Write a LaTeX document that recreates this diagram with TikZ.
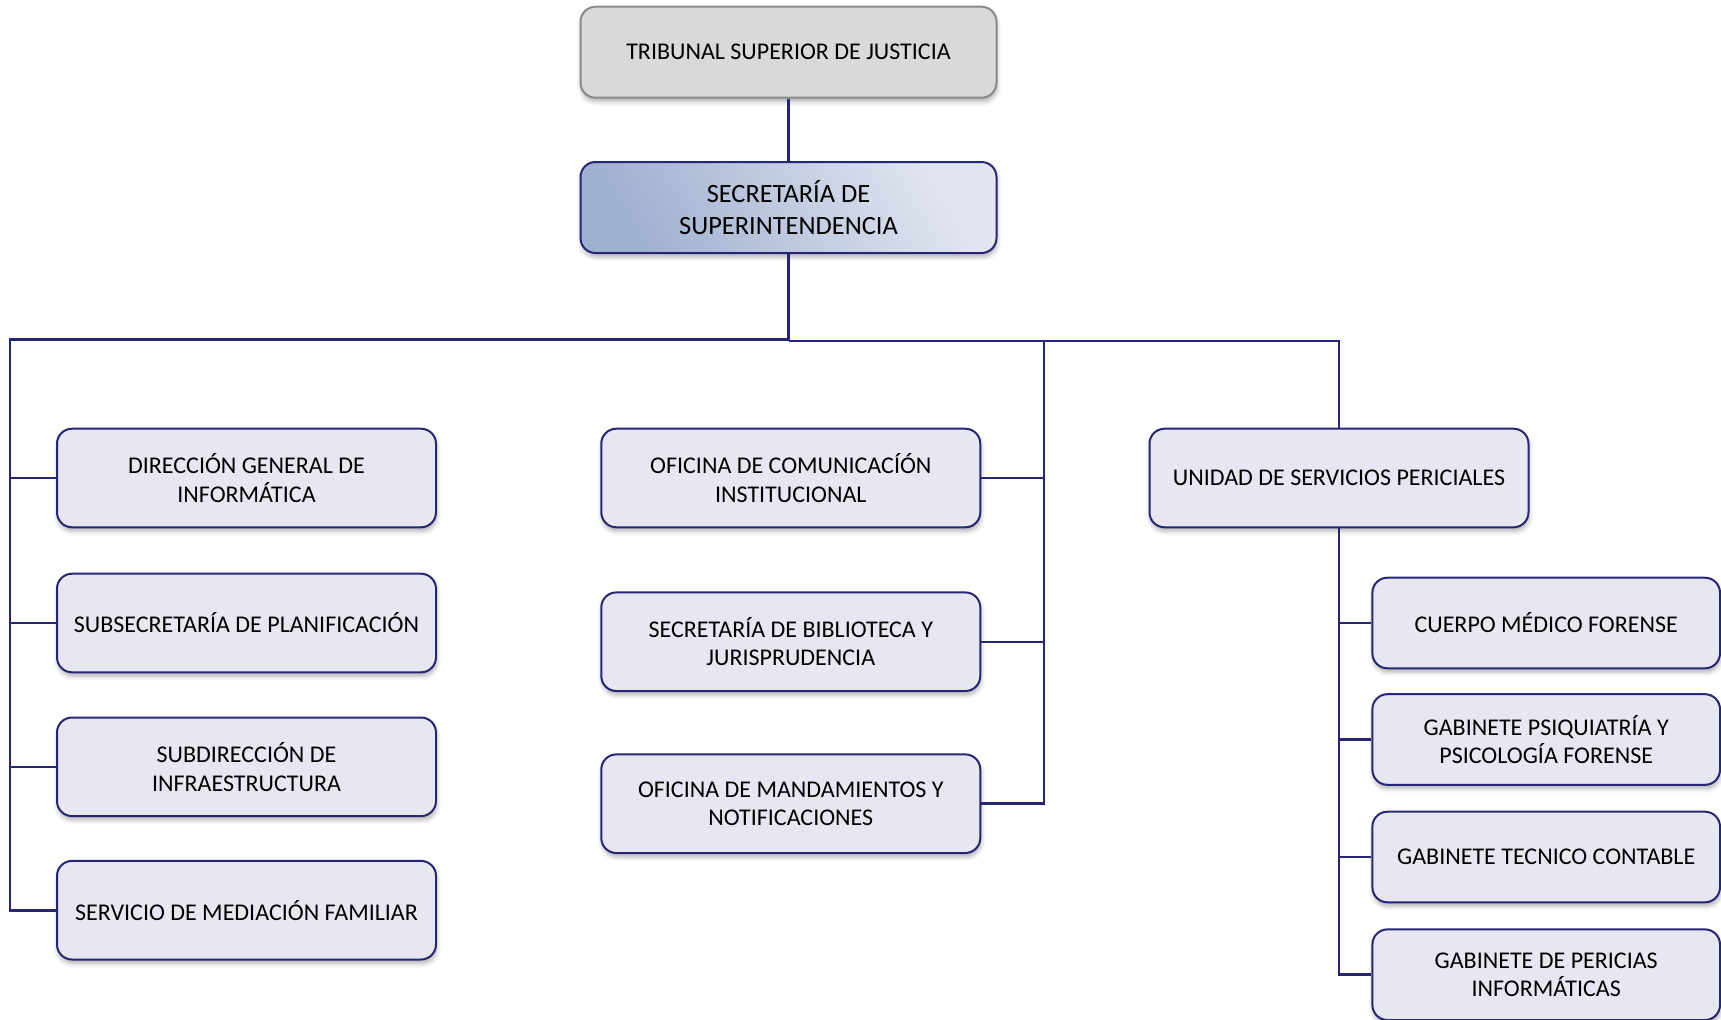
\documentclass[tikz,border=0pt]{standalone}
\usepackage{fontspec}
\setmainfont{Carlito}
\usetikzlibrary{shadows.blur}
\definecolor{navy}{RGB}{38,38,118}
\definecolor{boxfill}{RGB}{230,231,241}
\definecolor{trfill}{RGB}{217,217,217}
\definecolor{trdraw}{RGB}{138,138,138}
\definecolor{secA}{RGB}{160,176,208}
\definecolor{secB}{RGB}{226,230,240}
\begin{document}
\begin{tikzpicture}[x=0.5pt,y=-0.5pt,
  softshadow/.style={blur shadow={shadow xshift=0.4pt, shadow yshift=-2pt, shadow blur radius=2.2pt, shadow opacity=30}},
  unitbox/.style={draw=navy, line width=1pt, fill=boxfill, rounded corners=7.5pt,
    align=center, inner sep=0pt, text=black, softshadow,
    font=\fontsize{12}{14.3}\selectfont},
  leftbox/.style={unitbox, minimum width=189.5pt, minimum height=49.3pt},
  rightbox/.style={unitbox, minimum width=173.8pt, minimum height=45.3pt},
  topbox/.style={unitbox, draw=trdraw, fill=trfill, minimum width=208pt, minimum height=45.5pt},
  secbox/.style={unitbox, fill=none, left color=secB, right color=secA, shading angle=-60,
    minimum width=208pt, minimum height=45.5pt, font=\fontsize{13.2}{15.8}\selectfont},
  bus/.style={draw=navy, line width=1.4pt},
  stub/.style={draw=navy, line width=1.1pt}
]
\useasboundingbox (0,0) rectangle (1721,1019);

% top
\node[topbox] (trib) at (788.5,52.2) {TRIBUNAL SUPERIOR DE JUSTICIA};
\node[secbox] (sec) at (788.5,207.5) {SECRETARÍA DE\\SUPERINTENDENCIA};

% left column
\node[leftbox] (l1) at (246.5,478) {DIRECCIÓN GENERAL DE\\INFORMÁTICA};
\node[leftbox] (l2) at (246.5,623) {SUBSECRETARÍA DE PLANIFICACIÓN};
\node[leftbox] (l3) at (246.5,766.8) {SUBDIRECCIÓN DE\\INFRAESTRUCTURA};
\node[leftbox] (l4) at (246.5,910.2) {SERVICIO DE MEDIACIÓN FAMILIAR};

% middle column
\node[leftbox] (m1) at (790.8,478) {OFICINA DE COMUNICACÍÓN\\INSTITUCIONAL};
\node[leftbox] (m2) at (790.8,641.7) {SECRETARÍA DE BIBLIOTECA Y\\JURISPRUDENCIA};
\node[leftbox] (m3) at (790.8,803.7) {OFICINA DE MANDAMIENTOS Y\\NOTIFICACIONES};

% right
\node[leftbox] (u) at (1339,478) {UNIDAD DE SERVICIOS PERICIALES};
\node[rightbox] (r1) at (1546.2,623) {CUERPO MÉDICO FORENSE};
\node[rightbox] (r2) at (1546.2,739.5) {GABINETE PSIQUIATRÍA Y\\PSICOLOGÍA FORENSE};
\node[rightbox] (r3) at (1546.2,857) {GABINETE TECNICO CONTABLE};
\node[rightbox] (r4) at (1546.2,974.7) {GABINETE DE PERICIAS\\INFORMÁTICAS};

% junctions
\coordinate (jl) at (788.5,339.5);
\coordinate (lb) at (10,339.5);
\coordinate (jr) at (788.5,341);
\coordinate (mb) at (1044,341);
\coordinate (rb) at (1339,341);

% connectors
\draw[stub] (trib.south) -- (sec.north);
\draw[bus] (sec.south) -- (jr);
\draw[bus] (jl) -- (lb) |- (l4.west);
\draw[stub] (l1.west) -- (l1.west -| lb);
\draw[stub] (l2.west) -- (l2.west -| lb);
\draw[stub] (l3.west) -- (l3.west -| lb);
\draw[bus] (jr) -- (rb) -- (u.north);
\draw[bus] (mb) |- (m3.east);
\draw[stub] (m1.east) -- (m1.east -| mb);
\draw[stub] (m2.east) -- (m2.east -| mb);
\draw[bus] (u.south) |- (r4.west);
\draw[stub] (r1.west) -- (r1.west -| u.south);
\draw[stub] (r2.west) -- (r2.west -| u.south);
\draw[stub] (r3.west) -- (r3.west -| u.south);
\end{tikzpicture}
\end{document}
